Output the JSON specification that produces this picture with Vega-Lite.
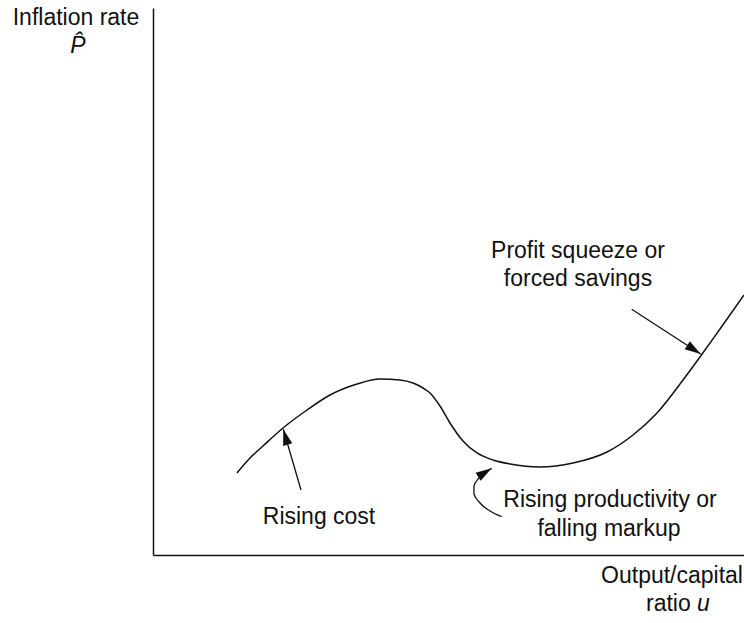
{
  "$schema": "https://vega.github.io/schema/vega-lite/v6.json",
  "width": 591,
  "height": 547,
  "autosize": "none",
  "padding": {"left": 153, "top": 8, "right": 0, "bottom": 68},
  "background": "white",
  "config": {"view": {"stroke": null}, "font": "Liberation Sans"},
  "datasets": {
    "curve": [
      {"u": 1.421, "P": 1.499}, {"u": 1.641, "P": 1.773}, {"u": 1.861, "P": 1.993},
      {"u": 2.2, "P": 2.322}, {"u": 2.606, "P": 2.651}, {"u": 2.995, "P": 2.925},
      {"u": 3.452, "P": 3.126}, {"u": 3.841, "P": 3.218}, {"u": 4.179, "P": 3.199},
      {"u": 4.399, "P": 3.144}, {"u": 4.569, "P": 3.053}, {"u": 4.687, "P": 2.962},
      {"u": 4.856, "P": 2.724}, {"u": 5.025, "P": 2.413}, {"u": 5.245, "P": 2.084},
      {"u": 5.482, "P": 1.865}, {"u": 5.753, "P": 1.737}, {"u": 6.041, "P": 1.664},
      {"u": 6.548, "P": 1.609}, {"u": 7.107, "P": 1.682}, {"u": 7.682, "P": 1.883},
      {"u": 8.122, "P": 2.194}, {"u": 8.528, "P": 2.596}, {"u": 8.968, "P": 3.199},
      {"u": 9.255, "P": 3.62}, {"u": 9.594, "P": 4.132}, {"u": 10.0, "P": 4.753}
    ],
    "arrows": [
      {"id": "cost", "k": 0, "u": 2.504, "P": 1.188},
      {"id": "cost", "k": 1, "u": 2.205, "P": 2.298},
      {"id": "squeeze", "k": 0, "u": 8.1, "P": 4.492},
      {"id": "squeeze", "k": 1, "u": 9.267, "P": 3.675},
      {"id": "prod", "k": 0, "u": 5.9, "P": 0.7},
      {"id": "prod", "k": 1, "u": 5.702, "P": 0.804},
      {"id": "prod", "k": 2, "u": 5.533, "P": 0.951},
      {"id": "prod", "k": 3, "u": 5.431, "P": 1.115},
      {"id": "prod", "k": 4, "u": 5.431, "P": 1.261},
      {"id": "prod", "k": 5, "u": 5.499, "P": 1.389},
      {"id": "prod", "k": 6, "u": 5.601, "P": 1.499},
      {"id": "prod", "k": 7, "u": 5.731, "P": 1.585}
    ],
    "heads": [
      {"id": "cost", "u": 2.205, "P": 2.298},
      {"id": "squeeze", "u": 9.267, "P": 3.675},
      {"id": "prod", "u": 5.731, "P": 1.585}
    ],
    "labels": [
      {"text": "Inflation rate", "u": -1.303, "P": 9.689},
      {"text": "Profit squeeze or", "u": 7.191, "P": 5.43},
      {"text": "forced savings", "u": 7.191, "P": 4.918},
      {"text": "Rising cost", "u": 2.809, "P": 0.567},
      {"text": "Rising productivity or", "u": 7.733, "P": 0.878},
      {"text": "falling markup", "u": 7.716, "P": 0.347},
      {"text": "Output/capital", "u": 8.782, "P": -0.512}
    ],
    "italic": [
      {"text": "P\u0302", "u": -1.269, "P": 9.177}
    ],
    "ratio": [
      {"text": "ratio", "u": 8.342, "P": -1.024}
    ],
    "uvar": [
      {"text": "u", "u": 9.205, "P": -1.024}
    ]
  },
  "encoding": {
    "x": {"field": "u", "type": "quantitative",
      "scale": {"domain": [0, 10], "nice": false, "zero": false},
      "axis": {"domain": true, "domainColor": "#111", "domainWidth": 1.5, "ticks": false, "labels": false, "grid": false, "title": null}},
    "y": {"field": "P", "type": "quantitative",
      "scale": {"domain": [0, 10], "nice": false, "zero": false},
      "axis": {"domain": true, "domainColor": "#111", "domainWidth": 1.5, "ticks": false, "labels": false, "grid": false, "title": null}}
  },
  "layer": [
    {
      "data": {"name": "curve"},
      "mark": {"type": "line", "interpolate": "monotone", "color": "#111", "strokeWidth": 1.5}
    },
    {
      "data": {"name": "arrows"},
      "mark": {"type": "line", "interpolate": "monotone", "color": "#111", "strokeWidth": 1.3},
      "encoding": {"detail": {"field": "id"}, "order": {"field": "k", "type": "quantitative"}}
    },
    {
      "data": {"name": "heads"},
      "transform": [{"filter": "datum.id === 'cost'"}],
      "mark": {"type": "point", "shape": "M0,0 L-0.6,2 L0.6,2 Z", "size": 256, "filled": true, "color": "#111", "opacity": 1, "angle": 344}
    },
    {
      "data": {"name": "heads"},
      "transform": [{"filter": "datum.id === 'squeeze'"}],
      "mark": {"type": "point", "shape": "M0,0 L-0.6,2 L0.6,2 Z", "size": 256, "filled": true, "color": "#111", "opacity": 1, "angle": 123}
    },
    {
      "data": {"name": "heads"},
      "transform": [{"filter": "datum.id === 'prod'"}],
      "mark": {"type": "point", "shape": "M0,0 L-0.6,2 L0.6,2 Z", "size": 256, "filled": true, "color": "#111", "opacity": 1, "angle": 58}
    },
    {
      "data": {"name": "labels"},
      "mark": {"type": "text", "fontSize": 23, "align": "center", "baseline": "alphabetic", "color": "#111"},
      "encoding": {"text": {"field": "text"}}
    },
    {
      "data": {"name": "italic"},
      "mark": {"type": "text", "fontSize": 23, "fontStyle": "italic", "align": "center", "baseline": "alphabetic", "color": "#111"},
      "encoding": {"text": {"field": "text"}}
    },
    {
      "data": {"name": "ratio"},
      "mark": {"type": "text", "fontSize": 23, "align": "left", "baseline": "alphabetic", "color": "#111"},
      "encoding": {"text": {"field": "text"}}
    },
    {
      "data": {"name": "uvar"},
      "mark": {"type": "text", "fontSize": 23, "fontStyle": "italic", "align": "left", "baseline": "alphabetic", "color": "#111"},
      "encoding": {"text": {"field": "text"}}
    }
  ]
}
